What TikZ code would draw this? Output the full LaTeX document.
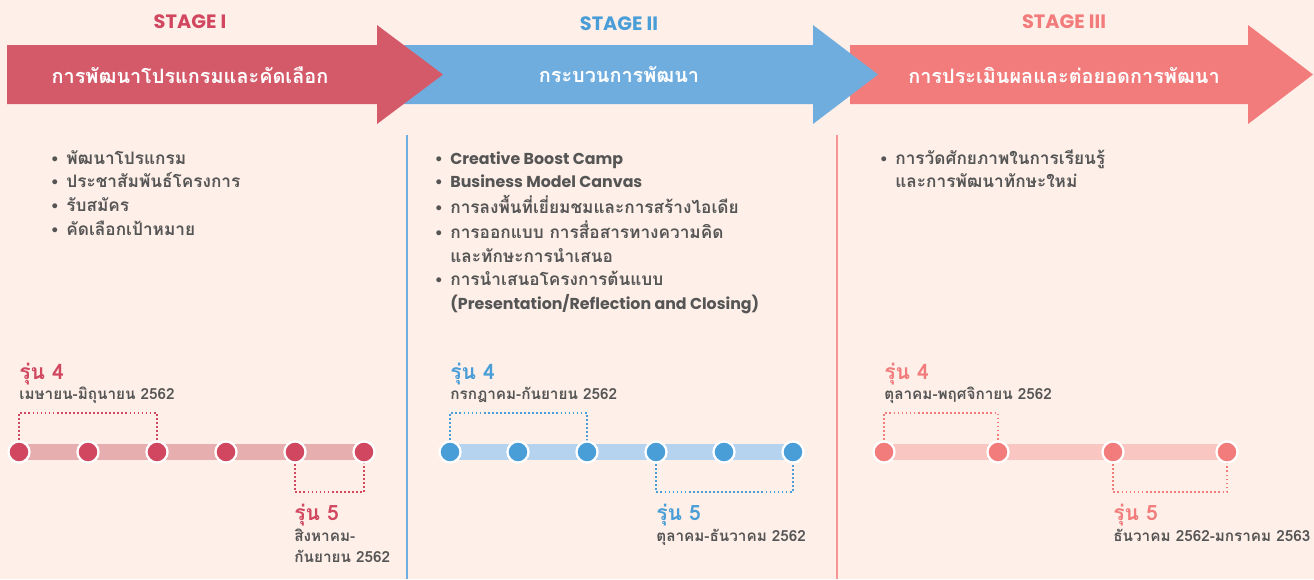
\documentclass[tikz,border=0pt]{standalone}
\usepackage{fontspec}
\setmainfont{Loma}[Script=Thai]
\newfontfamily\dotfont{DejaVu Sans}
\newfontfamily\latinfont{Poppins}
\usetikzlibrary{positioning}
\usepackage{xcolor}
\definecolor{BgPeach}{HTML}{FEEFE8}
\definecolor{StageRed}{HTML}{D45A6A}
\definecolor{StageBlue}{HTML}{6FADDF}
\definecolor{StageSalmon}{HTML}{F27B7B}
\definecolor{DotRed}{HTML}{D1475F}
\definecolor{DotBlue}{HTML}{4A9ED8}
\definecolor{TrackRed}{HTML}{E6AEAE}
\definecolor{TrackBlue}{HTML}{B5D3EE}
\definecolor{TrackSalmon}{HTML}{F9C6C1}
\definecolor{TextGray}{HTML}{555555}
\newcommand{\bul}{{\dotfont\footnotesize •}}
\newcommand{\eng}[1]{{\latinfont\fontsize{9}{13.6}\selectfont #1}}

\begin{document}
\begin{tikzpicture}[x=0.02cm,y=-0.02cm,
  title/.style={font=\latinfont\fontsize{11}{13}\selectfont\bfseries},
  band/.style={font=\fontsize{11.3}{14}\selectfont\bfseries,text=white},
  items/.style={anchor=base west,inner sep=0pt,text=TextGray,font=\fontsize{9.8}{13.6}\selectfont\bfseries},
  gen/.style={anchor=base west,inner sep=0pt,font=\fontsize{12}{14}\selectfont\bfseries},
  period/.style={anchor=base west,inner sep=0pt,text=TextGray,font=\fontsize{8.7}{12.5}\selectfont\bfseries},
  ms/.style={circle,inner sep=0pt,minimum size=12pt,draw=white,line width=1.3pt},
  track/.style={line width=9pt},
  bracket/.style={line width=1pt,dash pattern=on 1pt off 1.3pt}]
\useasboundingbox (0,0) rectangle (1314,579);
\fill[BgPeach] (0,0) rectangle (1314,579);

% stage arrows, last one at the bottom
\fill[StageSalmon] (850,45) -- (1248,45) -- (1248,25) -- (1313,74.5) -- (1248,124) -- (1248,104) -- (850,104) -- cycle;
\fill[StageBlue] (400,45) -- (813,45) -- (813,25) -- (878,74.5) -- (813,124) -- (813,104) -- (400,104) -- cycle;
\fill[StageRed] (7,45) -- (377,45) -- (377,25) -- (443,74.5) -- (377,124) -- (377,104) -- (7,104) -- cycle;

\node[title,text=DotRed] (t1) at (190,22) {STAGE I};
\node[title,text=DotBlue] (t2) at (619,24) {STAGE II};
\node[title,text=StageSalmon] (t3) at (1064,22) {STAGE III};
\node[band] (b1) at (190,75) {การพัฒนาโปรแกรมและคัดเลือก};
\node[band] (b2) at (619,75) {กระบวนการพัฒนา};
\node[band] (b3) at (1064,75) {การประเมินผลและต่อยอดการพัฒนา};

% separators
\draw[StageBlue,line width=1.2pt] (407,135) -- (407,579);
\draw[StageSalmon!80,line width=1.2pt] (837,135) -- (837,579);

% activity lists
\node[items] (l1) at (50,164) {\begin{tabular}[t]{@{}l@{\hspace{4pt}}l@{}}
\bul & พัฒนาโปรแกรม\\
\bul & ประชาสัมพันธ์โครงการ\\
\bul & รับสมัคร\\
\bul & คัดเลือกเป้าหมาย
\end{tabular}};
\node[items] (l2) at (434,164) {\begin{tabular}[t]{@{}l@{\hspace{4pt}}l@{}}
\bul & \eng{Creative Boost Camp}\\
\bul & \eng{Business Model Canvas}\\
\bul & การลงพื้นที่เยี่ยมชมและการสร้างไอเดีย\\
\bul & การออกแบบ การสื่อสารทางความคิด\\
     & และทักษะการนำเสนอ\\
\bul & การนำเสนอโครงการต้นแบบ\\
     & \eng{(Presentation/Reflection and Closing)}
\end{tabular}};
\node[items] (l3) at (879,164) {\begin{tabular}[t]{@{}l@{\hspace{4pt}}l@{}}
\bul & การวัดศักยภาพในการเรียนรู้\\
     & และการพัฒนาทักษะใหม่
\end{tabular}};

% timeline I
\foreach \n/\x in {1/19,2/88,3/157,4/226,5/295,6/364}
  \coordinate (r\n) at (\x,452);
\draw[track,TrackRed] (r1) -- (r6);
\draw[bracket,DotRed] (r1) -- ++(0,-39) -| (r3);
\draw[bracket,DotRed] (r5) -- ++(0,40) -| (r6);
\foreach \n in {1,...,6}
  \node[ms,fill=DotRed] (mr\n) at (r\n) {};
\node[gen,text=DotRed] (g4r) at (19,379) {รุ่น 4};
\node[period] (p4r) at (19,399) {เมษายน-มิถุนายน 2562};
\node[gen,text=DotRed] (g5r) at (294,520) {รุ่น 5};
\node[period] (p5r) at (294,541) {\begin{tabular}[t]{@{}l@{}}สิงหาคม-\\กันยายน 2562\end{tabular}};

% timeline II
\foreach \n/\x in {1/450,2/518,3/587,4/656,5/724,6/793}
  \coordinate (u\n) at (\x,452);
\draw[track,TrackBlue] (u1) -- (u6);
\draw[bracket,DotBlue] (u1) -- ++(0,-39) -| (u3);
\draw[bracket,DotBlue] (u4) -- ++(0,40) -| (u6);
\foreach \n in {1,...,6}
  \node[ms,fill=DotBlue] (mu\n) at (u\n) {};
\node[gen,text=DotBlue] (g4u) at (450,379) {รุ่น 4};
\node[period] (p4u) at (450,399) {กรกฎาคม-กันยายน 2562};
\node[gen,text=DotBlue] (g5u) at (656,520) {รุ่น 5};
\node[period] (p5u) at (656,541) {ตุลาคม-ธันวาคม 2562};

% timeline III
\foreach \n/\x in {1/884,2/998,3/1113,4/1227}
  \coordinate (s\n) at (\x,452);
\draw[track,TrackSalmon] (s1) -- (s4);
\draw[bracket,StageSalmon] (s1) -- ++(0,-39) -| (s2);
\draw[bracket,StageSalmon] (s3) -- ++(0,40) -| (s4);
\foreach \n in {1,...,4}
  \node[ms,fill=StageSalmon] (ms\n) at (s\n) {};
\node[gen,text=StageSalmon] (g4s) at (884,379) {รุ่น 4};
\node[period] (p4s) at (884,399) {ตุลาคม-พฤศจิกายน 2562};
\node[gen,text=StageSalmon] (g5s) at (1113,520) {รุ่น 5};
\node[period] (p5s) at (1113,541) {ธันวาคม 2562-มกราคม 2563};
\end{tikzpicture}
\end{document}
